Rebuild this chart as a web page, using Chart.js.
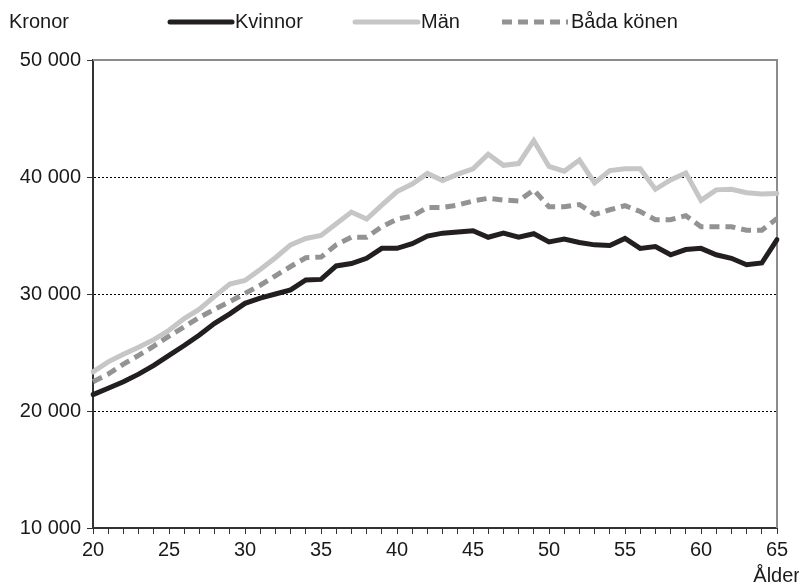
<!DOCTYPE html>
<html>
<head>
<meta charset="utf-8">
<script src="https://cdn.jsdelivr.net/npm/chart.js@4.4.1/dist/chart.umd.min.js"></script>
<style>
  html, body { margin: 0; padding: 0; background: #fff; }
  #wrap { width: 799px; height: 586px; position: relative; }
</style>
</head>
<body>
<div id="wrap"><canvas id="chart"></canvas></div>
<script>
// Ålder 20-65
const ages = [];
for (let a = 20; a <= 65; a++) ages.push(a);

// Kronor per månad
const kvinnor = [21400, 21950, 22500, 23150, 23900, 24750, 25600, 26500, 27500, 28300,
    29200, 29650, 30000, 30350, 31200, 31250, 32400, 32600, 33050, 33900,
    33900, 34300, 34950, 35200, 35300, 35400, 34850, 35200, 34850, 35150,
    34450, 34700, 34400, 34200, 34150, 34750, 33900, 34050, 33350, 33800,
    33900, 33350, 33050, 32500, 32650, 34650];
const man = [23350, 24200, 24850, 25450, 26100, 26900, 27900, 28700, 29800, 30850,
    31150, 32100, 33100, 34200, 34750, 35000, 36000, 37000, 36400, 37600,
    38750, 39400, 40300, 39700, 40250, 40700, 41950, 41000, 41150, 43100,
    40900, 40500, 41450, 39500, 40550, 40700, 40700, 38950, 39750, 40350,
    38000, 38900, 38950, 38650, 38550, 38600];
const bada = [22500, 23150, 24000, 24750, 25550, 26400, 27200, 28000, 28700, 29350,
    30050, 30750, 31550, 32350, 33100, 33150, 34200, 34850, 34850, 35750,
    36400, 36650, 37400, 37400, 37600, 37950, 38180, 38030, 37950, 38900,
    37450, 37450, 37650, 36800, 37200, 37550, 37050, 36350, 36350, 36700,
    35750, 35750, 35750, 35450, 35450, 36450];

const yTicks = [10000, 20000, 30000, 40000, 50000];

const FONT = '"Liberation Sans", Arial, sans-serif';
const FSIZE = 20;

function fmt(v) {
    return String(v).replace(/\B(?=(\d{3})+(?!\d))/g, ' ');
}

// legenda, ram och axeltitlar ritas för hand
const extras = {
    id: 'extras',
    beforeDatasetsDraw(chart) {
        const ctx = chart.ctx, a = chart.chartArea;
        ctx.save();
        ctx.strokeStyle = '#8c8c8c';
        ctx.lineWidth = 2;
        ctx.beginPath();
        ctx.moveTo(a.left, a.top);
        ctx.lineTo(a.right, a.top);
        ctx.lineTo(a.right, a.bottom);
        ctx.stroke();
        ctx.restore();
    },
    afterDraw(chart) {
        const ctx = chart.ctx;
        ctx.save();
        ctx.font = FSIZE + 'px ' + FONT;
        ctx.fillStyle = '#1a1a1a';
        ctx.textBaseline = 'middle';
        ctx.textAlign = 'left';
        ctx.fillText('Kronor', 9, 22);
        ctx.textAlign = 'right';
        ctx.fillText('Ålder', 800, 576);

        const items = [[170, 232], [355, 418], [502, 568]];
        chart.data.datasets.forEach((ds, i) => {
            const [x0, x1] = items[i];
            ctx.strokeStyle = ds.borderColor;
            ctx.lineWidth = ds.borderWidth;
            ctx.lineCap = ds.borderCapStyle || 'round';
            ctx.setLineDash(ds.borderDash || []);
            ctx.beginPath();
            ctx.moveTo(x0, 22);
            ctx.lineTo(x1, 22);
            ctx.stroke();
            ctx.setLineDash([]);
            ctx.textAlign = 'left';
            ctx.fillText(ds.label, x1 + 3, 22);
        });
        ctx.restore();
    }
};

new Chart(document.getElementById('chart'), {
    type: 'line',
    data: {
        labels: ages,
        datasets: [
            { label: 'Kvinnor', data: kvinnor, borderColor: '#231f20', borderWidth: 5, borderCapStyle: 'round' },
            { label: 'Män', data: man, borderColor: '#c6c6c6', borderWidth: 5, borderCapStyle: 'round' },
            { label: 'Båda könen', data: bada, borderColor: '#939393', borderWidth: 5, borderDash: [10, 6], borderCapStyle: 'butt' }
        ]
    },
    options: {
        responsive: true,
        maintainAspectRatio: false,
        animation: false,
        elements: {
            point: { radius: 0 },
            line: { tension: 0, fill: false }
        },
        layout: { padding: { top: 60, right: 22, bottom: 0, left: 0 } },
        plugins: {
            legend: { display: false },
            tooltip: { enabled: false }
        },
        scales: {
            x: {
                type: 'category',
                offset: false,
                afterFit(scale) { scale.height = 58; },
                grid: {
                    drawOnChartArea: false,
                    drawTicks: true,
                    tickLength: 6,
                    tickColor: '#333',
                    tickWidth: 1
                },
                border: { color: '#333', width: 2 },
                ticks: {
                    autoSkip: false,
                    maxRotation: 0,
                    padding: 4,
                    color: '#1a1a1a',
                    font: { family: FONT, size: FSIZE },
                    callback(v) {
                        const a = ages[v];
                        return a % 5 === 0 ? String(a) : '';
                    }
                }
            },
            y: {
                min: 10000,
                max: 50000,
                afterFit(scale) { scale.width = 93; },
                afterBuildTicks(scale) { scale.ticks = yTicks.map(v => ({ value: v })); },
                grid: {
                    color: c => (c.tick && c.tick.value > 10000 && c.tick.value < 50000) ? '#000' : 'rgba(0,0,0,0)',
                    lineWidth: 1,
                    drawTicks: true,
                    tickLength: 6,
                    tickColor: '#333',
                    tickWidth: 1
                },
                border: { color: '#333', width: 2, dash: [2, 2] },
                ticks: {
                    padding: 6,
                    color: '#1a1a1a',
                    font: { family: FONT, size: FSIZE },
                    callback: v => fmt(v)
                }
            }
        }
    },
    plugins: [extras]
});
</script>
</body>
</html>
